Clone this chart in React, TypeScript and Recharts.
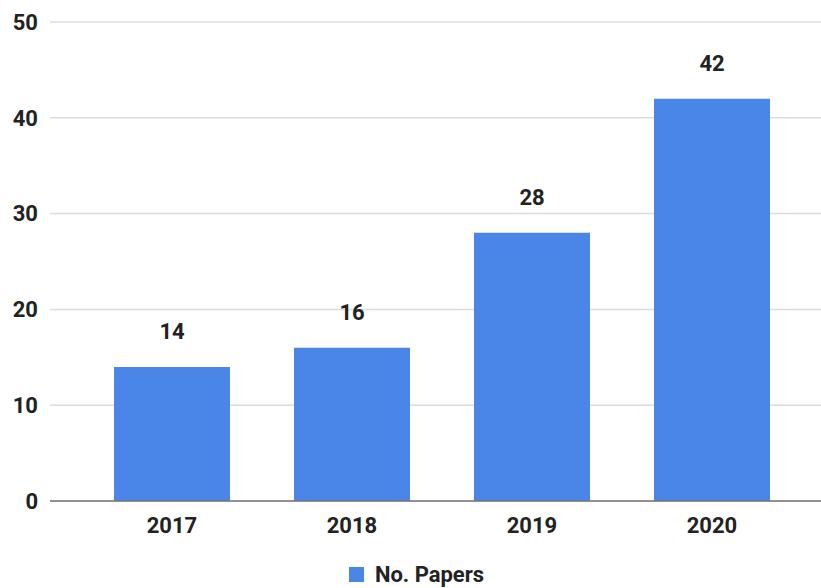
import { BarChart, Bar, XAxis, YAxis, CartesianGrid, Legend, LabelList } from 'recharts';

const years = ['2017', '2018', '2019', '2020'];
const papers = [14, 16, 28, 42];
const yTicks = [0, 10, 20, 30, 40, 50];

const data = years.map((year, i) => ({ year, papers: papers[i] }));

const font = 'Roboto, "Noto Sans", sans-serif';
const textStyle = { fontSize: 22, fontWeight: 700, fill: '#222', fontFamily: font };

function LegendContent() {
  return (
    <div
      style={{
        display: 'flex',
        justifyContent: 'center',
        alignItems: 'center',
        fontFamily: font,
        paddingTop: 11,
        paddingLeft: 12,
        lineHeight: '25px',
      }}
    >
      <span style={{ width: 15, height: 15, background: '#4a86e8', display: 'inline-block', marginRight: 11 }} />
      <span style={{ fontSize: 22, fontWeight: 700, color: '#222' }}>No. Papers</span>
    </div>
  );
}

export default function App() {
  return (
    <div style={{ position: 'absolute', left: 0, top: 0, background: '#fff' }}>
      <BarChart
        width={821}
        height={588}
        data={data}
        margin={{ top: 22, right: 0, left: 0, bottom: 0 }}
        barSize={116}
      >
        <CartesianGrid vertical={false} stroke="#dcdcdc" strokeWidth={1.5} />
        <XAxis
          dataKey="year"
          padding={{ left: 32, right: 19 }}
          tickLine={false}
          axisLine={{ stroke: '#757575', strokeWidth: 1.5 }}
          tick={textStyle}
          tickMargin={10}
          height={50}
        />
        <YAxis
          width={50}
          domain={[0, 50]}
          ticks={yTicks}
          tickLine={false}
          axisLine={false}
          tickSize={0}
          tickMargin={12}
          tick={textStyle}
        />
        <Legend verticalAlign="bottom" height={37} content={<LegendContent />} />
        <Bar dataKey="papers" fill="#4a86e8" isAnimationActive={false}>
          <LabelList dataKey="papers" position="top" offset={28} style={textStyle} />
        </Bar>
      </BarChart>
    </div>
  );
}
